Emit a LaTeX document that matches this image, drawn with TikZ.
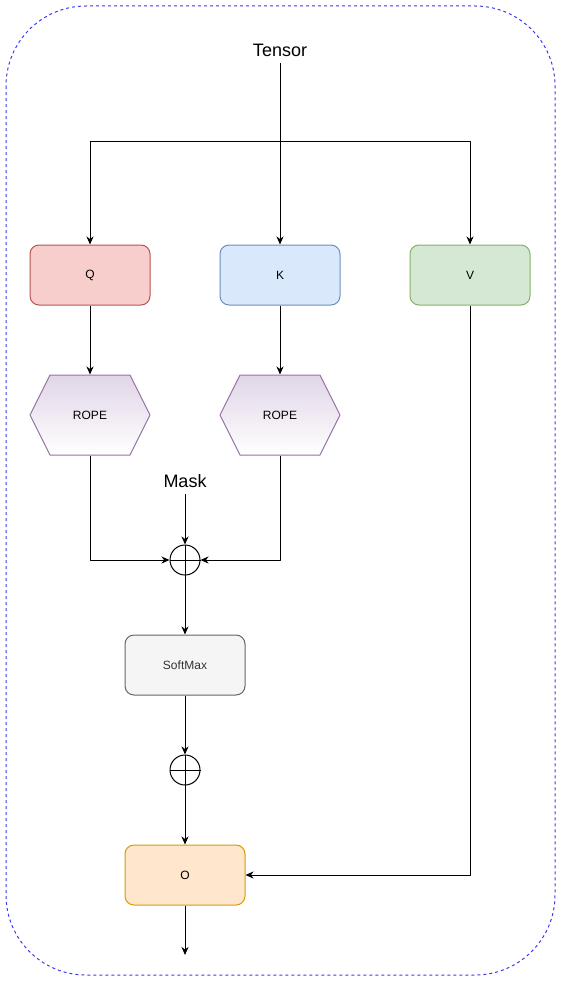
\documentclass[tikz,border=0pt]{standalone}
\usepackage{fontspec}
\setmainfont{Liberation Sans}
\usetikzlibrary{arrows.meta}

\definecolor{qfill}{HTML}{F8CECC}
\definecolor{qline}{HTML}{B85450}
\definecolor{kfill}{HTML}{DAE8FC}
\definecolor{kline}{HTML}{6C8EBF}
\definecolor{vfill}{HTML}{D5E8D4}
\definecolor{vline}{HTML}{82B366}
\definecolor{ropetop}{HTML}{E1D5E7}
\definecolor{ropeline}{HTML}{9673A6}
\definecolor{smfill}{HTML}{F5F5F5}
\definecolor{smline}{HTML}{666666}
\definecolor{smtext}{HTML}{333333}
\definecolor{ofill}{HTML}{FFE6CC}
\definecolor{oline}{HTML}{D79B00}
\definecolor{frame}{HTML}{3B3BF0}

\begin{document}
\begin{tikzpicture}[x=1pt, y=-1pt, line width=1pt, line join=round,
    >={Stealth[length=8pt, width=7pt, inset=2.5pt]},
    box/.style={draw, rounded corners=9pt, minimum width=120pt, minimum height=60pt,
      inner sep=0pt, font=\fontsize{12}{14}\selectfont},
    hexa/.style={minimum width=120pt, minimum height=80pt, inner sep=0pt,
      font=\fontsize{12}{14}\selectfont},
    addop/.style={circle, draw, minimum size=30pt, inner sep=0pt},
    tag/.style={inner sep=6pt, font=\fontsize{18}{21}\selectfont}]
    \useasboundingbox (0,0) rectangle (561,982);

    % outer frame
    \draw[frame, dash pattern=on 3pt off 3pt, rounded corners=80pt] (6,6) rectangle (555,975);

    \node[tag] (tensor) at (280,50) {Tensor};
    \coordinate (split) at (280,141);

    \node[box, fill=qfill, draw=qline] (q) at (90,275) {Q};
    \node[box, fill=kfill, draw=kline] (k) at (280,275) {K};
    \node[box, fill=vfill, draw=vline] (v) at (470,275) {V};

    % rope hexagons
    \foreach \cx/\nm in {90/ropeq, 280/ropek} {
      \shade[top color=ropetop, bottom color=white, draw=ropeline]
        (\cx-60,415) -- (\cx-40,375) -- (\cx+40,375) -- (\cx+60,415)
        -- (\cx+40,455) -- (\cx-40,455) -- cycle;
      \node[hexa] (\nm) at (\cx,415) {ROPE};
    }

    \node[tag] (mask) at (185,481) {Mask};
    \node[addop] (add1) at (185,560) {};
    \draw (add1.north) -- (add1.south) (add1.west) -- (add1.east);

    \node[box, fill=smfill, draw=smline, text=smtext] (softmax) at (185,665) {SoftMax};

    \node[addop] (add2) at (185,770) {};
    \draw (add2.north) -- (add2.south) (add2.west) -- (add2.east);

    \node[box, fill=ofill, draw=oline] (o) at (185,875) {O};
    \coordinate (out) at (185,955);

    % connectors
    \draw[->] (tensor) -- (k);
    \draw[->] (split) -| (q);
    \draw[->] (split) -| (v);
    \draw[->] (q) -- (ropeq);
    \draw[->] (k) -- (ropek);
    \draw[->] (ropeq) |- (add1);
    \draw[->] (ropek) |- (add1);
    \draw[->] (mask) -- (add1);
    \draw[->] (add1) -- (softmax);
    \draw[->] (softmax) -- (add2);
    \draw[->] (add2) -- (o);
    \draw[->] (v) |- (o);
    \draw[->] (o) -- (out);
\end{tikzpicture}
\end{document}
